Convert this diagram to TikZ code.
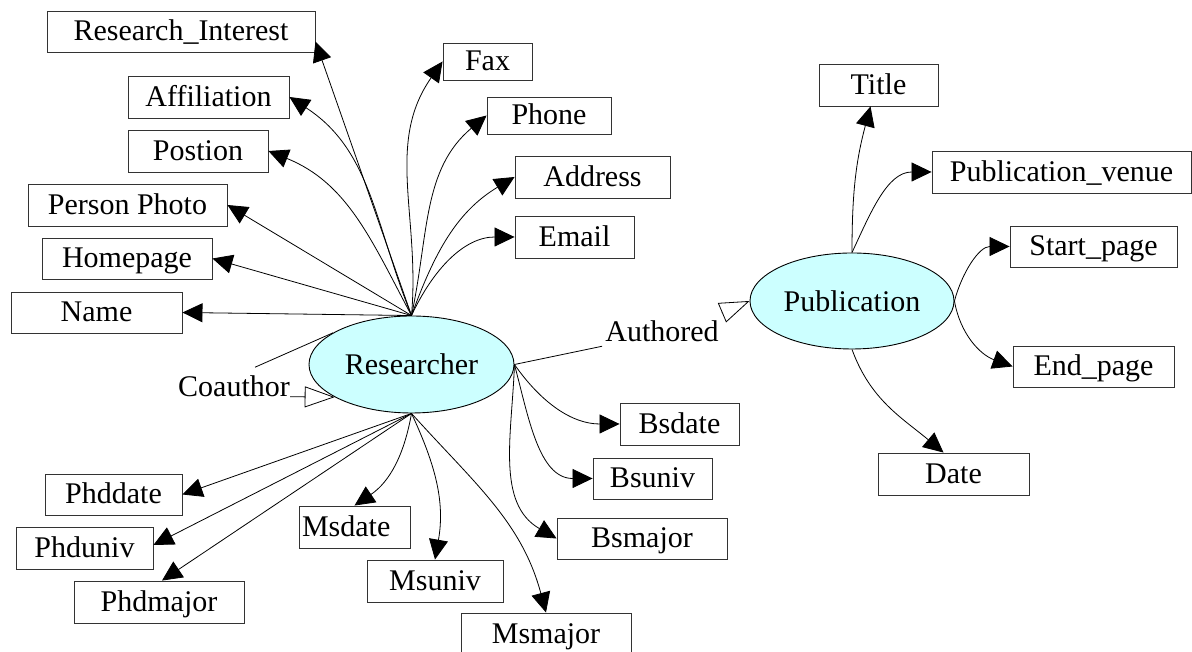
\documentclass[tikz,border=0pt]{standalone}
\usepackage{fontspec}
\setmainfont{Liberation Serif}
\usetikzlibrary{arrows.meta,shapes.geometric}
\definecolor{entfill}{HTML}{CCFFFF}

\begin{document}
\begin{tikzpicture}
  [x=1pt,y=1pt,
   every node/.style={font=\fontsize{30}{36}\selectfont, inner sep=0pt},
   attr/.style={rectangle, draw=black!80, line width=0.9pt, minimum height=42pt, text height=25pt, text depth=6pt},
   entity/.style={ellipse, draw=black, line width=0.9pt, fill=entfill, minimum width=205pt, minimum height=97pt, text height=25pt, text depth=4.5pt},
   edge/.style={line width=0.8pt, -{Triangle[length=20pt,width=19pt]}},
   rel/.style={line width=0.8pt, -{Triangle[open,length=30pt,width=21pt]}}]
  \useasboundingbox (0,0) rectangle (1192,652);

  \node[entity] (rs) at (411.5,287.5) {Researcher};
  \node[entity, minimum width=204pt, minimum height=96pt] (pub) at (852,351) {Publication};

  \node[attr, minimum width=268pt, minimum height=41pt] (ri) at (181,620.5) {Research\_Interest};
  \node[attr, minimum width=161pt] (af) at (208.5,555) {Affiliation};
  \node[attr, minimum width=140pt] (po) at (198,501) {Postion};
  \node[attr, minimum width=199pt] (pp) at (127.5,447) {Person Photo};
  \node[attr, minimum width=170pt, minimum height=41pt] (hp) at (127,393.5) {Homepage};
  \node[attr, minimum width=171pt, minimum height=41pt] (nm) at (96.5,339.5) {Name};
  \node[attr, minimum width=89pt, minimum height=37pt] (fx) at (487.5,590.5) {Fax};
  \node[attr, minimum width=124pt, minimum height=37pt] (pn) at (549,536.5) {Phone};
  \node[attr, minimum width=155pt] (ad) at (592.5,475) {Address};
  \node[attr, minimum width=119pt] (em) at (574.5,415) {Email};

  \node[attr, minimum width=137pt, minimum height=41pt] (pdd) at (113.5,157.5) {Phddate};
  \node[attr, minimum width=137pt] (pdu) at (84.5,104) {Phduniv};
  \node[attr, minimum width=170pt] (pdm) at (159,50) {Phdmajor};
  \node[attr, text width=105pt, inner xsep=3pt, align=left] (msd) at (354.5,125) {Msdate};
  \node[attr, minimum width=136pt] (msu) at (435,71) {Msuniv};
  \node[attr, minimum width=170pt] (msm) at (546,18) {Msmajor};
  \node[attr, minimum width=119pt] (bsd) at (679.5,228) {Bsdate};
  \node[attr, minimum width=119pt, minimum height=41pt] (bsu) at (652.5,173.5) {Bsuniv};
  \node[attr, minimum width=170pt, minimum height=41pt] (bsm) at (642,113.5) {Bsmajor};

  \node[attr, minimum width=119pt] (ti) at (878.5,567) {Title};
  \node[attr, minimum width=259pt] (pv) at (1061.5,480) {Publication\_venue};
  \node[attr, minimum width=167pt, minimum height=41pt] (sp) at (1093.5,405.5) {Start\_page};
  \node[attr, minimum width=161pt, minimum height=41pt] (ep) at (1093.5,285.5) {End\_page};
  \node[attr, minimum width=151pt] (dt) at (953.5,178) {Date};

  \node (auth) at (662,320.5) {Authored};
  \node (coa) at (234,266) {Coauthor};

  \coordinate (ritip) at ([yshift=-10pt]ri.east);
  \coordinate (pdutip) at ([yshift=3pt]pdu.east);
  \coordinate (pdmtip) at ([xshift=3pt]pdm.north);
  \coordinate (titip) at ([xshift=-8pt]ti.south);
  \coordinate (dttip) at ([xshift=-10pt]dt.north);
  \coordinate (autail) at ([shift={(3pt,8pt)}]auth.north east);
  \coordinate (auhead) at ([shift={(-3pt,-4pt)}]auth.south west);
  \coordinate (coloop) at ([shift={(21pt,8pt)}]coa.north);

  \foreach \to in {ritip,pp.east,hp.east,nm.east}
    \draw[edge] (rs.north) -- (\to);
  \foreach \to in {pdd.east,pdutip,pdmtip}
    \draw[edge] (rs.south) -- (\to);

  \foreach \from/\to/\o/\i in {rs.north/af.east/112/-33, rs.north/po.east/118/-22,
      rs.north/fx.west/85/-125, rs.north/pn.west/78/-140, rs.north/ad.west/70/-149,
      rs.north/em.west/65/180, rs.south/msd.north/-100/34, rs.south/msu.north/-65/80,
      rs.south/msm.north/-48/105, rs.east/bsd.west/-55/180, rs.east/bsu.west/-75/180,
      rs.east/bsm.west/-92/150, pub.north/titip/90/-105, pub.north/pv.west/65/180,
      pub.east/sp.west/75/180, pub.east/ep.west/-80/160, pub.south/dttip/-70/140}
    \draw[edge] (\from) to[out=\o,in=\i] (\to);

  \draw[line width=0.8pt] (rs.east) -- (auhead);
  \draw[rel] (autail) -- (pub.west);
  \draw[line width=0.8pt] (rs.158) -- (coloop);
  \draw[rel] (coa.south east) -- (rs.203);
\end{tikzpicture}
\end{document}
